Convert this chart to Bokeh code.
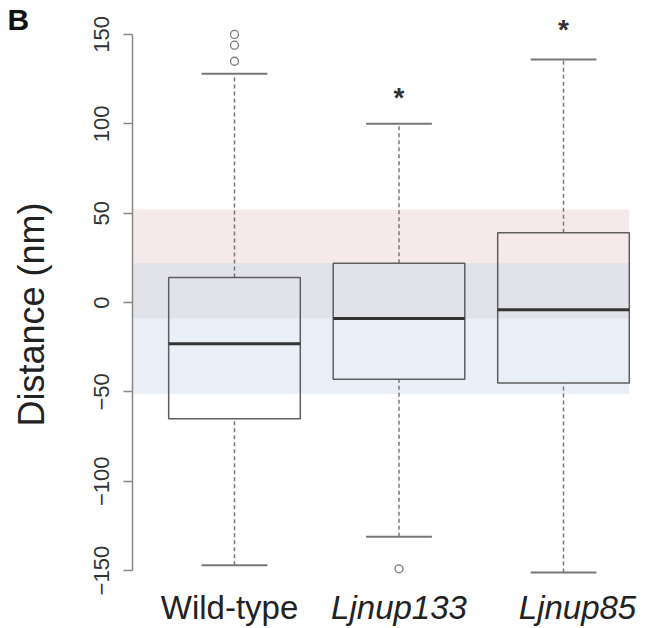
from bokeh.plotting import figure
from bokeh.models import Range1d, FixedTicker
from bokeh.core.properties import value
from bokeh.embed import file_html
from bokeh.resources import INLINE

# ---- data ----
categories = ["Wild-type", "Ljnup133", "Ljnup85"]
positions = [1, 2, 3]
q1 = [-65, -43, -45]
medians = [-23, -9, -4]
q3 = [14, 22, 39]
whisker_low = [-147, -131, -151]
whisker_high = [128, 100, 136]
outlier_x = [1, 1, 1, 2]
outlier_y = [135, 144, 150, -149]
star_x = [2, 3]
star_y = [118, 156]
band_low = [-9, -51]
band_high = [52, 22]
band_colors = ["#deb6b9", "#c6d7eb"]
band_alpha = [0.3, 0.4]
y_ticks = [-150, -100, -50, 0, 50, 100, 150]

BOXW = 0.8
CAPW = 0.4

p = figure(width=652, height=628, output_backend="svg", toolbar_location=None,
           x_range=Range1d(0.38, 3.541), y_range=Range1d(-182.4, 169),
           x_axis_location=None, min_border_left=132, min_border_right=0,
           min_border_top=0, min_border_bottom=0,
           title="B", title_location="above")
p.outline_line_color = None
p.grid.visible = False
p.background_fill_color = "white"
p.border_fill_color = "white"

# panel letter as title (zero-height panel, shifted to the far left)
p.title.text_font = "Liberation Sans"
p.title.text_font_style = "bold"
p.title.text_font_size = "30px"
p.title.text_color = "#111111"
p.title.align = "left"
p.title.vertical_align = "bottom"
p.title.offset = -125
p.title.standoff = -70

# bands
p.quad(left=[0.38, 0.38], right=[3.4, 3.4], bottom=band_low, top=band_high,
       fill_color=band_colors, fill_alpha=band_alpha, line_color=None)

# whiskers (dashed)
p.segment(x0=positions, x1=positions, y0=q3, y1=whisker_high,
          line_color="#777777", line_width=1.5, line_dash="4 3")
p.segment(x0=positions, x1=positions, y0=whisker_low, y1=q1,
          line_color="#777777", line_width=1.5, line_dash="4 3")
# caps
p.segment(x0=[x - CAPW / 2 for x in positions], x1=[x + CAPW / 2 for x in positions],
          y0=whisker_high, y1=whisker_high, line_color="#777777", line_width=2)
p.segment(x0=[x - CAPW / 2 for x in positions], x1=[x + CAPW / 2 for x in positions],
          y0=whisker_low, y1=whisker_low, line_color="#777777", line_width=2)
# boxes
p.quad(left=[x - BOXW / 2 for x in positions], right=[x + BOXW / 2 for x in positions],
       bottom=q1, top=q3, fill_color=None, line_color="#5e5e5e", line_width=1.5)
# medians
p.segment(x0=[x - BOXW / 2 for x in positions], x1=[x + BOXW / 2 for x in positions],
          y0=medians, y1=medians, line_color="#333333", line_width=3)
# outliers
p.scatter(outlier_x, outlier_y, marker="circle", size=8, fill_color=None,
          line_color="#777777", line_width=1.3)
# significance stars
p.text(x=star_x, y=star_y, text=["*"] * len(star_x), text_align="center",
       text_baseline="middle", y_offset=6, text_font=value("Liberation Sans"),
       text_font_size="28px", text_font_style="bold", text_color="#333333")

# category labels
p.text(x=[positions[0]], y=[-170.5], text=[categories[0]], text_align="center",
       text_baseline="alphabetic", x_offset=-5, text_font=value("Liberation Sans"),
       text_font_size="33px", text_color="#222222")
p.text(x=positions[1:], y=[-170.5] * 2, text=categories[1:], text_align="center",
       text_baseline="alphabetic", x_offset=[0, 14], text_font=value("Liberation Sans"),
       text_font_style="italic", text_font_size="33px", text_color="#222222")

# y axis
ax = p.yaxis[0]
ax.ticker = FixedTicker(ticks=y_ticks)
ax.bounds = (-150, 150)
ax.axis_line_color = "#888888"
ax.axis_line_width = 1.5
ax.major_tick_line_color = "#888888"
ax.major_tick_line_width = 1.5
ax.major_tick_out = 9
ax.major_tick_in = 0
ax.minor_tick_line_color = None
ax.major_label_orientation = "vertical"
ax.major_label_text_font = "Liberation Sans"
ax.major_label_text_font_size = "22px"
ax.major_label_text_color = "#333333"
ax.major_label_standoff = 14
ax.axis_label = "Distance (nm)"
ax.axis_label_text_font = "Liberation Sans"
ax.axis_label_text_font_size = "36px"
ax.axis_label_text_font_style = "normal"
ax.axis_label_text_color = "#222222"
ax.axis_label_standoff = 40

open("out.html", "w").write(file_html(p, INLINE))
